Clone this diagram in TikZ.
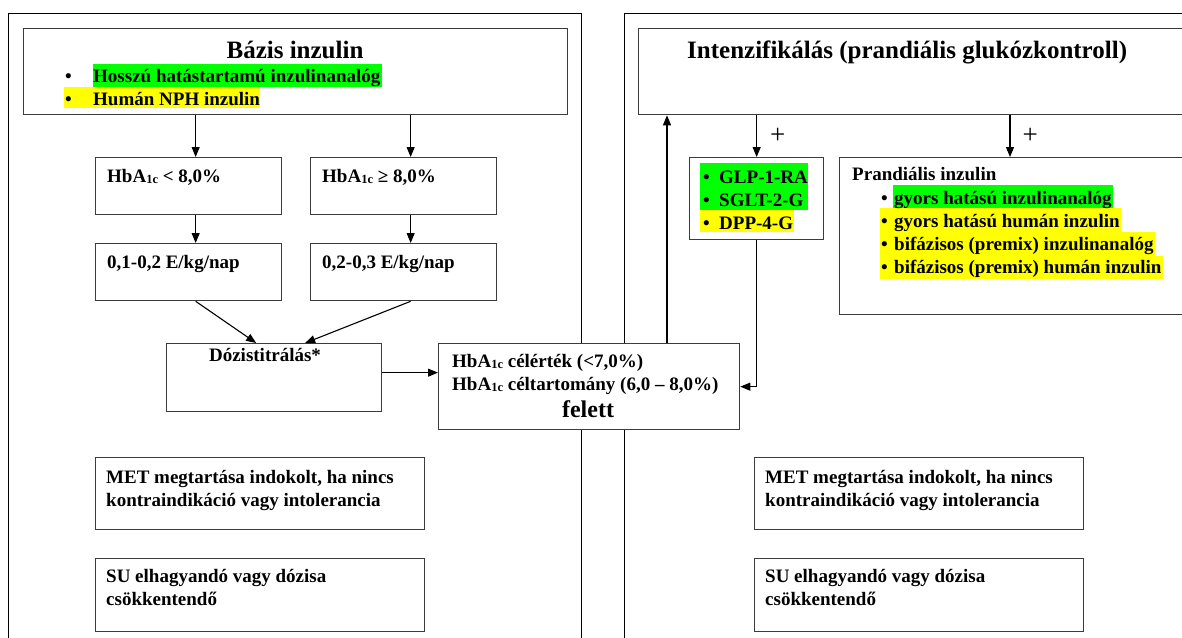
\documentclass[tikz,border=0pt]{standalone}
\usepackage{fontspec}
\setmainfont{Liberation Serif}
\usetikzlibrary{arrows.meta}
\definecolor{zoldkiem}{RGB}{0,255,0}
\definecolor{sargakiem}{RGB}{255,255,0}
\definecolor{keret}{RGB}{60,60,60}
\newcommand{\hbaic}{HbA\raisebox{-1pt}{\fontsize{12.5}{12.5}\selectfont 1c}}

\tikzset{
  doboz/.style={draw=keret, line width=1.3pt, fill=white, inner sep=0pt, anchor=north west},
  szoveg/.style={font=\fontsize{19}{23}\selectfont\bfseries, inner sep=0pt, anchor=base west, align=left},
  cim/.style={font=\fontsize{25}{30}\selectfont\bfseries, inner sep=0pt, anchor=base},
  nyil/.style={line width=1.1pt, -{Triangle[length=10pt,width=8pt]}},
  plusz/.style={font=\fontsize{27}{27}\selectfont, inner sep=0pt, anchor=west}
}

\begin{document}
\begin{tikzpicture}[x=1pt, y=-1pt]
\useasboundingbox (0,0) rectangle (1182,637);
\clip (0,0) rectangle (1182,637);
\fill[white] (0,0) rectangle (1182,637);

    % keretek
    \draw[line width=1pt] (8,700) -- (8,13) -- (581,13) -- (581,700);
    \draw[line width=1pt] (624,700) -- (624,13) -- (1250,13);

    % bazis inzulin oldal
    \node[doboz, minimum width=544, minimum height=86] (bazis) at (23,28) {};
    \fill[zoldkiem] (93,64) rectangle (382,87);
    \fill[sargakiem] (64,87) rectangle (260,108);
    \node[cim] (bazisc) at (295,58) {Bázis inzulin};
    \node[szoveg] (bp1) at (65,82) {\textbullet};
    \node[szoveg] (bt1) at (93,82) {Hosszú hatástartamú inzulinanalóg};
    \node[szoveg] (bp2) at (65,105) {\textbullet};
    \node[szoveg] (bt2) at (93,105) {Humán NPH inzulin};

    \node[doboz, minimum width=186, minimum height=57] (hbaal) at (95,157) {};
    \node[doboz, minimum width=186, minimum height=57] (hbafe) at (310,157) {};
    \node[szoveg] (hbaalt) at (107,182) {\hbaic{} < 8,0\%};
    \node[szoveg] (hbafet) at (322,182) {\hbaic{} ≥ 8,0\%};

    \node[doboz, minimum width=186, minimum height=57] (adagal) at (95,243) {};
    \node[doboz, minimum width=186, minimum height=57] (adagfe) at (310,243) {};
    \node[szoveg] (adagalt) at (107,268) {0,1-0,2 E/kg/nap};
    \node[szoveg] (adagfet) at (322,268) {0,2-0,3 E/kg/nap};

    \node[doboz, minimum width=215, minimum height=68] (dozis) at (166,343) {};
    \node[szoveg, anchor=base] (dozist) at (265,361) {Dózistitrálás*};

    \draw[nyil] ([xshift=7pt]hbaal.north |- bazis.south) -- ([xshift=7pt]hbaal.north);
    \draw[nyil] ([xshift=7pt]hbafe.north |- bazis.south) -- ([xshift=7pt]hbafe.north);
    \draw[nyil] ([xshift=7pt]hbaal.south) -- ([xshift=7pt]adagal.north);
    \draw[nyil] ([xshift=7pt]hbafe.south) -- ([xshift=7pt]adagfe.north);
    \draw[nyil] ([xshift=7pt]adagal.south) -- ([xshift=-18pt]dozis.north);
    \draw[nyil] ([xshift=7pt]adagfe.south) -- ([xshift=31pt]dozis.north);

    % celertek doboz (a tobbsoros szoveg alapvonala az utolso sor)
    \node[doboz, minimum width=301, minimum height=86] (felett) at (438,343) {};
    \node[szoveg] (felettt) at (452,390) {\hbaic{} célérték (<7,0\%)\\\hbaic{} céltartomány (6,0 – 8,0\%)};
    \node[cim, font=\fontsize{24}{28}\selectfont\bfseries] (felettc) at (588,417) {felett};
    \draw[nyil] ([yshift=5pt]dozis.east) -- ([yshift=5pt]dozis.east -| felett.west);

    % intenzifikalas oldal
    \node[doboz, minimum width=600, minimum height=86] (intenz) at (638,28) {};
    \node[cim, anchor=base west] (intenzc) at (687,58) {Intenzifikálás (prandiális glukózkontroll)};

    \node[doboz, minimum width=134, minimum height=82] (glp) at (689,157) {};
    \fill[zoldkiem] (700,163) rectangle (808,210);
    \fill[sargakiem] (700,210) rectangle (794,232);
    \node[szoveg] (glpp) at (703,229) {\textbullet\\\textbullet\\\textbullet};
    \node[szoveg] (glpt) at (719,229) {GLP-1-RA\\SGLT-2-G\\DPP-4-G};

    \node[doboz, minimum width=400, minimum height=157] (prand) at (839,157) {};
    \fill[zoldkiem] (893,185) rectangle (1113,208);
    \fill[sargakiem] (880,208) rectangle (1121,232);
    \fill[sargakiem] (880,232) rectangle (1155,256);
    \fill[sargakiem] (880,256) rectangle (1163,279);
    \node[szoveg] (prandc) at (852,180) {Prandiális inzulin};
    \node[szoveg] (prandp) at (881,273) {\textbullet\\\textbullet\\\textbullet\\\textbullet};
    \node[szoveg] (prandt) at (894,273) {gyors hatású inzulinanalóg\\gyors hatású humán inzulin\\bifázisos (premix) inzulinanalóg\\bifázisos (premix) humán inzulin};

    \draw[nyil] (glp.north |- intenz.south) -- (glp.north) node[plusz, midway, right=13pt] {+};
    \draw[nyil] ([xshift=171pt]prand.north west |- intenz.south) -- ([xshift=171pt]prand.north west) node[plusz, midway, right=12pt] {+};
    \draw[nyil] ([xshift=29pt]intenz.south west |- felett.north) -- ([xshift=29pt]intenz.south west);
    \draw[nyil] (glp.south) |- (felett.east);

    % also dobozok
    \node[doboz, minimum width=329, minimum height=72] (metbal) at (95,457) {};
    \node[szoveg] (metbalt) at (106,506) {MET megtartása indokolt, ha nincs\\kontraindikáció vagy intolerancia};
    \node[doboz, minimum width=329, minimum height=73] (subal) at (95,558) {};
    \node[szoveg] (subalt) at (106,605) {SU elhagyandó vagy dózisa\\csökkentendő};

    \node[doboz, minimum width=329, minimum height=72] (metjobb) at (754,457) {};
    \node[szoveg] (metjobbt) at (765,506) {MET megtartása indokolt, ha nincs\\kontraindikáció vagy intolerancia};
    \node[doboz, minimum width=329, minimum height=73] (sujobb) at (754,558) {};
    \node[szoveg] (sujobbt) at (765,605) {SU elhagyandó vagy dózisa\\csökkentendő};

\end{tikzpicture}
\end{document}
